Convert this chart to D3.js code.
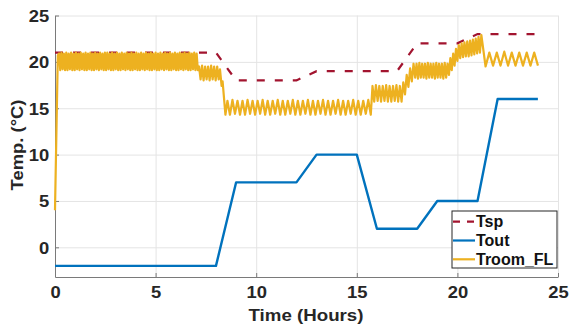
<!DOCTYPE html>
<html>
<head>
<meta charset="utf-8">
<script src="https://cdn.jsdelivr.net/npm/d3@7/dist/d3.min.js"></script>
<style>
  html, body { margin: 0; padding: 0; background: #fff; }
  svg { display: block; font-family: "Liberation Sans", Arial, sans-serif; font-weight: bold; }
</style>
</head>
<body>
<svg id="chart" width="569" height="327"></svg>
<script>
// ---- data ----
const xTicks = [0, 5, 10, 15, 20, 25];
const yTicks = [0, 5, 10, 15, 20, 25];

// set-point temperature (dashed)
const tspTime = [0, 8, 9, 12, 13, 17, 18, 20, 21, 24];
const tspTemp = [21, 21, 18, 18, 19, 19, 22, 22, 23, 23];

// outdoor temperature
const toutTime = [0, 8, 9, 12, 13, 15, 16, 18, 19, 21, 22, 24];
const toutTemp = [-2, -2, 7, 7, 10, 10, 2, 2, 5, 5, 16, 16];

// room temperature under the fuzzy controller: runs of samples (start hour, sample step, values)
const troomRunStart = [0.2, 7.16, 8.57, 15.78, 17.31, 17.9, 19.58, 20.14, 21.4];
const troomRunStep = [0.06, 0.075, 0.125, 0.085, 0.085, 0.07, 0.07, 0.07, 0.186];
const troomRuns = [
  [20.9,19.1,21.0,19.2,20.9,19.1,21.0,19.1,20.9,19.2,21.0,19.1,20.9,19.1,21.0,19.2,20.9,19.1,21.0,19.2,
   20.9,19.1,21.0,19.1,20.9,19.2,21.0,19.1,20.9,19.1,21.0,19.2,20.9,19.1,21.0,19.2,20.9,19.1,21.0,19.1,
   21.0,19.2,20.9,19.1,21.0,19.1,20.9,19.2,21.0,19.1,20.9,19.1,21.0,19.2,20.9,19.1,21.0,19.2,20.9,19.1,
   21.0,19.1,20.9,19.2,21.0,19.1,20.9,19.1,21.0,19.2,20.9,19.1,21.0,19.2,20.9,19.1,21.0,19.1,20.9,19.2,
   21.0,19.1,20.9,19.1,21.0,19.2,20.9,19.1,21.0,19.2,20.9,19.1,21.0,19.1,20.9,19.2,21.0,19.1,20.9,19.1,
   21.0,19.2,20.9,19.1,21.0,19.2,20.9,19.1,21.0,19.1,20.9,19.2,21.0,19.1,20.9,19.1],
  [19.5,18.1,19.6,18.0,19.5,18.1,19.5,18.0,19.6,18.1,19.5,18.0,19.5,18.1],
  [15.8,14.3,15.9,14.4,15.8,14.3,15.8,14.3,15.9,14.4,
   15.8,14.3,15.8,14.4,15.9,14.3,15.8,14.3,15.8,14.4,
   15.9,14.3,15.8,14.3,15.8,14.4,15.9,14.3,15.8,14.3,
   15.8,14.4,15.9,14.3,15.8,14.3,15.8,14.4,15.9,14.3,
   15.8,14.3,15.8,14.4,15.9,14.3,15.8,14.3,15.8,14.4,
   15.9,14.3,15.8,14.3,15.8,14.4,15.9,14.3],
  [17.4,15.7,17.5,15.8,17.4,15.7,17.4,15.8,17.5,15.7,17.4,15.7,17.4,15.8,17.5,15.7,17.4,15.7],
  [17.8,16.5,18.6,17.3,19.3,17.9,19.8],
  [18.3,19.8,18.2,19.9,18.3,19.8,18.3,19.8,18.2,19.9,18.3,19.8,18.3,19.8,18.2,19.9,18.3,19.8,18.3,19.8,18.2,19.9,18.3,19.8],
  [18.6,20.4,19.1,20.9,19.6,21.4,20.1,21.8],
  [20.4,22.0,20.5,22.1,20.6,22.2,20.6,22.3,20.7,22.4,20.8,22.5,20.9,22.7,21.0,22.9],
  [19.5,21.0,19.6,21.0,19.6,21.1,19.6,21.0,19.6,21.0,19.6,21.0,19.6,21.0,19.6]
];
// start-up rise and the step down after the morning set-point change
const troomExtraTime = [0, 0.14, 8.2, 8.28, 8.33, 8.47];
const troomExtraTemp = [4.0, 20.7, 19.2, 17.4, 17.9, 14.3];

const legendLabels = ["Tsp", "Tout", "Troom_FL"];
const colors = { tsp: "#A2142F", tout: "#0072BD", troom: "#EDB120" };

// ---- layout ----
const svg = d3.select("#chart");
const x = d3.scaleLinear().domain([0, 25]).range([55, 558]);
const y = d3.scaleLinear().domain([-3.2, 25]).range([277, 15.5]);
const plotTop = y(25), plotBottom = y(-3.2), plotLeft = x(0), plotRight = x(25);

// grid
const gridX = svg.append("g").attr("transform", `translate(0,${plotBottom})`)
  .call(d3.axisBottom(x).tickValues(xTicks.slice(1)).tickSize(-(plotBottom - plotTop)).tickFormat(""));
gridX.select(".domain").remove();
gridX.selectAll("line").attr("stroke", "#e4e4e4").attr("stroke-width", 1);

const gridY = svg.append("g").attr("transform", `translate(${plotLeft},0)`)
  .call(d3.axisLeft(y).tickValues(yTicks).tickSize(-(plotRight - plotLeft)).tickFormat(""));
gridY.select(".domain").remove();
gridY.selectAll("line").attr("stroke", "#e4e4e4").attr("stroke-width", 1);

// axes
const axX = svg.append("g").attr("transform", `translate(0,${plotBottom})`)
  .call(d3.axisBottom(x).tickValues(xTicks).tickSize(-4).tickSizeOuter(0));
const axY = svg.append("g").attr("transform", `translate(${plotLeft},0)`)
  .call(d3.axisLeft(y).tickValues(yTicks).tickSize(-4).tickSizeOuter(0));
[axX, axY].forEach(g => {
  g.select(".domain").attr("stroke", "#7a7a7a").attr("stroke-width", 1);
  g.selectAll(".tick line").attr("stroke", "#7a7a7a");
  g.selectAll("text").attr("fill", "#262626").style("font-size", "16px").style("font-weight", "bold");
});
axX.selectAll("text").attr("y", 21).attr("dy", 0).attr("transform", "scale(1.15,1)");
axY.selectAll("text").attr("x", -5).attr("dy", "0.36em").attr("transform", "scale(1.15,1)");

// axis titles
svg.append("text").attr("x", 306).attr("y", 320.5).attr("text-anchor", "middle")
  .attr("fill", "#262626").style("font-size", "17px")
  .attr("textLength", 115).attr("lengthAdjust", "spacingAndGlyphs")
  .text("Time (Hours)");
svg.append("text").attr("transform", "translate(23,145) rotate(-90)").attr("text-anchor", "middle")
  .attr("fill", "#262626").style("font-size", "17px")
  .attr("textLength", 91).attr("lengthAdjust", "spacingAndGlyphs")
  .text("Temp. (°C)");

// series
const line = d3.line().x(d => x(d[0])).y(d => y(d[1]));
const tsp = tspTime.map((t, i) => [t, tspTemp[i]]);
const tout = toutTime.map((t, i) => [t, toutTemp[i]]);
let troom = troomExtraTime.map((t, i) => [t, troomExtraTemp[i]]);
troomRuns.forEach((vals, r) => {
  vals.forEach((v, j) => troom.push([troomRunStart[r] + j * troomRunStep[r], v]));
});
troom.sort((a, b) => a[0] - b[0]);

svg.append("path").datum(tsp).attr("d", line).attr("fill", "none")
  .attr("stroke", colors.tsp).attr("stroke-width", 2.2).attr("stroke-dasharray", "8,10");
svg.append("path").datum(tout).attr("d", line).attr("fill", "none")
  .attr("stroke", colors.tout).attr("stroke-width", 2.4).attr("stroke-linejoin", "round");
svg.append("path").datum(troom).attr("d", line).attr("fill", "none")
  .attr("stroke", colors.troom).attr("stroke-width", 2.2).attr("stroke-linejoin", "round");

// legend
const lg = svg.append("g");
lg.append("rect").attr("x", 452).attr("y", 211).attr("width", 105).attr("height", 57)
  .attr("fill", "#fff").attr("stroke", "#262626").attr("stroke-width", 1);
const legendColors = [colors.tsp, colors.tout, colors.troom];
legendLabels.forEach((lab, i) => {
  const ly = 221.7 + i * 18.8;
  lg.append("line").attr("x1", 453).attr("x2", 475).attr("y1", ly).attr("y2", ly)
    .attr("stroke", legendColors[i]).attr("stroke-width", 2.2)
    .attr("stroke-dasharray", i === 0 ? "7,7" : null);
  lg.append("text").attr("x", 476).attr("y", ly + 5.5).attr("fill", "#111")
    .style("font-size", "16px").text(lab);
});
</script>
</body>
</html>
